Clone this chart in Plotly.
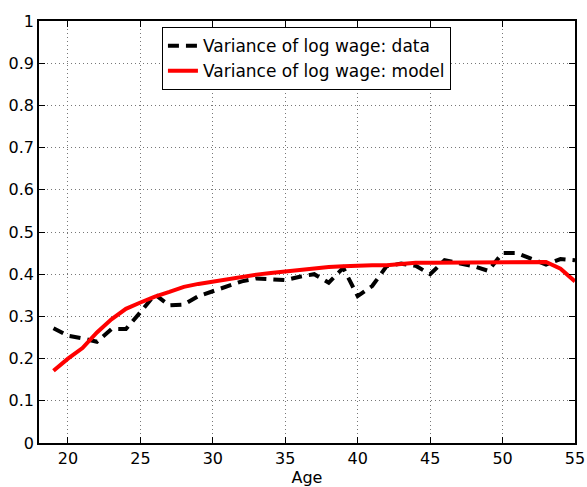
import plotly.graph_objects as go

ages = list(range(19, 56))
var_data = [0.272, 0.254, 0.248, 0.240, 0.270, 0.270, 0.310, 0.352, 0.326, 0.328,
            0.348, 0.360, 0.372, 0.383, 0.390, 0.388, 0.386, 0.394, 0.400, 0.380,
            0.415, 0.348, 0.372, 0.419, 0.425, 0.420, 0.400, 0.433, 0.427, 0.419,
            0.408, 0.450, 0.450, 0.436, 0.423, 0.436, 0.433]
var_model = [0.171, 0.200, 0.225, 0.262, 0.293, 0.318, 0.333, 0.347, 0.358, 0.370,
             0.377, 0.383, 0.389, 0.394, 0.399, 0.403, 0.407, 0.410, 0.414, 0.417,
             0.419, 0.421, 0.421, 0.421, 0.424, 0.427, 0.427, 0.427, 0.427, 0.427,
             0.428, 0.429, 0.429, 0.429, 0.429, 0.413, 0.383]

x_ticks = [20, 25, 30, 35, 40, 45, 50, 55]
y_ticks = [0, 0.1, 0.2, 0.3, 0.4, 0.5, 0.6, 0.7, 0.8, 0.9, 1]
y_labels = ["0", "0.1", "0.2", "0.3", "0.4", "0.5", "0.6", "0.7", "0.8", "0.9", "1"]

fig = go.Figure()
fig.add_trace(go.Scatter(x=ages, y=var_data, mode="lines",
                         name="Variance of log wage: data",
                         line=dict(color="black", width=4, dash="11px,7px")))
fig.add_trace(go.Scatter(x=ages, y=var_model, mode="lines",
                         name="Variance of log wage: model",
                         line=dict(color="red", width=4)))

font = dict(family="DejaVu Sans, sans-serif", size=16, color="black")
axis_common = dict(showline=True, linecolor="black", linewidth=1.5, mirror="ticks",
                   ticks="inside", ticklen=6, tickcolor="black", tickwidth=1,
                   showgrid=True, gridcolor="#777", gridwidth=1, griddash="1px,3px",
                   zeroline=False, tickfont=font, automargin=False)

fig.update_layout(
    width=587, height=487,
    margin=dict(l=39, r=12, t=21, b=44),
    paper_bgcolor="white", plot_bgcolor="white",
    font=font,
    showlegend=True,
    legend=dict(x=0.229, y=0.986, xanchor="left", yanchor="top",
                bgcolor="white", bordercolor="black", borderwidth=1.2,
                font=dict(family="DejaVu Sans, sans-serif", size=17, color="black"),
                tracegroupgap=0, itemwidth=30),
    xaxis=dict(range=[18, 55], tickvals=x_ticks,
               title=dict(text="Age", font=font, standoff=0), **axis_common),
    yaxis=dict(range=[0, 1], tickvals=y_ticks, ticktext=y_labels, **axis_common),
)

fig.write_html("out.html",
               config={"displayModeBar": False},
               post_script="document.body.style.margin='0';document.body.style.overflow='hidden';")
